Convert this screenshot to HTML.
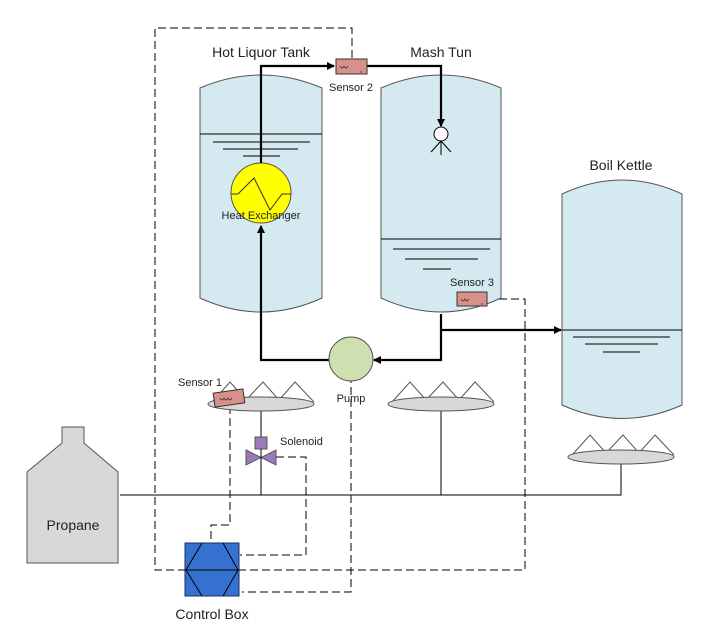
<!DOCTYPE html>
<html><head><style>html,body{margin:0;padding:0;background:#fff}svg{display:block}text{font-family:"Liberation Sans",sans-serif;fill:#222}</style></head><body>
<svg width="709" height="629" viewBox="0 0 709 629" xmlns="http://www.w3.org/2000/svg">
<defs><marker id="a" markerWidth="8" markerHeight="8" refX="7" refY="4" orient="auto" markerUnits="userSpaceOnUse"><path d="M0,0 L8,4 L0,8 Z" fill="#000"/></marker></defs>
<g fill="none" stroke="#000" stroke-width="1" stroke-dasharray="8,4">
<path d="M352,58 V28 H155 V570 H525 V299 H487"/>
<path d="M276,457 H306 V555 H240"/>
<path d="M230,406 V525 H211 V541"/>
<path d="M351,375 V592 H242"/>
</g>
<g fill="#d4eaf0" stroke="#555" stroke-width="1">
<path d="M200,88 Q261,62 322,88 V298 Q261,326 200,298 Z"/>
<path d="M381,88 Q441,62 501,88 V298 Q441,326 381,298 Z"/>
<path d="M562,194 Q622,166 682,194 V405 Q622,432 562,405 Z"/>
</g>
<g stroke="#000" stroke-width="1">
<line x1="200" y1="134" x2="322" y2="134"/><line x1="213" y1="142" x2="310" y2="142"/><line x1="223" y1="149" x2="298" y2="149"/><line x1="243" y1="156" x2="280" y2="156"/>
<line x1="381" y1="239" x2="501" y2="239"/><line x1="393" y1="249" x2="490" y2="249"/><line x1="405" y1="259" x2="478" y2="259"/><line x1="423" y1="269" x2="451" y2="269"/>
<line x1="562" y1="330" x2="682" y2="330"/><line x1="573" y1="337" x2="670" y2="337"/><line x1="585" y1="344" x2="658" y2="344"/><line x1="603" y1="352" x2="640" y2="352"/>
</g>
<circle cx="261" cy="193" r="30" fill="#ffff00" stroke="#555"/>
<path d="M231,194 H238 L254,178 L270,210 L282,194 H291" fill="none" stroke="#333"/>
<circle cx="441" cy="134" r="7" fill="#fff" stroke="#000"/>
<path d="M441,141 V155 M441,141 L431,152 M441,141 L451,152" stroke="#000" fill="none"/>
<g fill="none" stroke="#000" stroke-width="2.2">
<path d="M261,163 V66 H334" marker-end="url(#a)"/>
<path d="M367,66 H441 V126" marker-end="url(#a)"/>
<path d="M329,360 H261 V226" marker-end="url(#a)"/>
<path d="M441,314 V360 H374" marker-end="url(#a)"/>
<path d="M441,330 H561" marker-end="url(#a)"/>
</g>
<g fill="#d9908a" stroke="#333">
<rect x="336" y="59" width="31" height="15"/>
<rect x="457" y="292" width="30" height="14"/>
</g>
<g fill="none" stroke="#333" stroke-width="0.8">
<path d="M340,66 q2,4 4,0 q2,4 4,0 M361,71 v2"/>
<path d="M461,299 q2,4 4,0 q2,4 4,0 M482,303 v2"/>
</g>
<circle cx="351" cy="359" r="22" fill="#cfe0b0" stroke="#555"/>
<g stroke="#000" stroke-width="1" fill="none">
<path d="M120,495 H621 V464"/>
<path d="M261,411 V495 M441,411 V495"/>
</g>
<g stroke="#555" fill="none">
<path d="M212,402 L230,382 L246,400 L263,382 L279,400 L295,382 L314,402"/>
<path d="M392,402 L410,382 L426,400 L443,382 L459,400 L475,382 L494,402"/>
<path d="M572,455 L590,435 L606,453 L623,435 L639,453 L655,435 L674,455"/>
</g>
<g fill="#d8d8d8" stroke="#555">
<ellipse cx="261" cy="404" rx="53" ry="7"/>
<ellipse cx="441" cy="404" rx="53" ry="7"/>
<ellipse cx="621" cy="457" rx="53" ry="7"/>
</g>
<rect x="214" y="391" width="30" height="14" transform="rotate(-8 229 398)" fill="#d9908a" stroke="#333"/>
<path d="M220,398 q2,4 4,0 q2,4 4,0 q2,4 4,0" fill="none" stroke="#333" stroke-width="0.8"/>
<rect x="255" y="437" width="12" height="12" fill="#9a7ab8" stroke="#555"/>
<path d="M246,450 L276,465 V450 L246,465 Z" fill="#9a7ab8" stroke="#555"/>
<line x1="261" y1="449" x2="261" y2="465" stroke="#000"/>
<rect x="185" y="543" width="54" height="53" fill="#3572d0" stroke="#1a2f60"/>
<path d="M202,543 L186,570 L202,596 M223,543 L238,570 L223,596 M183,570 H242" fill="none" stroke="#000"/>
<path d="M62,427 H84 V443 L118,472 V563 H27 V472 L62,443 Z" fill="#d8d8d8" stroke="#555"/>
<text x="261" y="57" font-size="14" text-anchor="middle">Hot Liquor Tank</text>
<text x="441" y="57" font-size="14" text-anchor="middle">Mash Tun</text>
<text x="621" y="170" font-size="14" text-anchor="middle">Boil Kettle</text>
<text x="351" y="91" font-size="11" text-anchor="middle">Sensor 2</text>
<text x="472" y="286" font-size="11" text-anchor="middle">Sensor 3</text>
<text x="200" y="386" font-size="11" text-anchor="middle">Sensor 1</text>
<text x="351" y="402" font-size="11" text-anchor="middle">Pump</text>
<text x="280" y="445" font-size="11">Solenoid</text>
<text x="261" y="219" font-size="11" text-anchor="middle">Heat Exchanger</text>
<text x="212" y="619" font-size="14" text-anchor="middle">Control Box</text>
<text x="73" y="530" font-size="14" text-anchor="middle">Propane</text>
</svg>
</body></html>
